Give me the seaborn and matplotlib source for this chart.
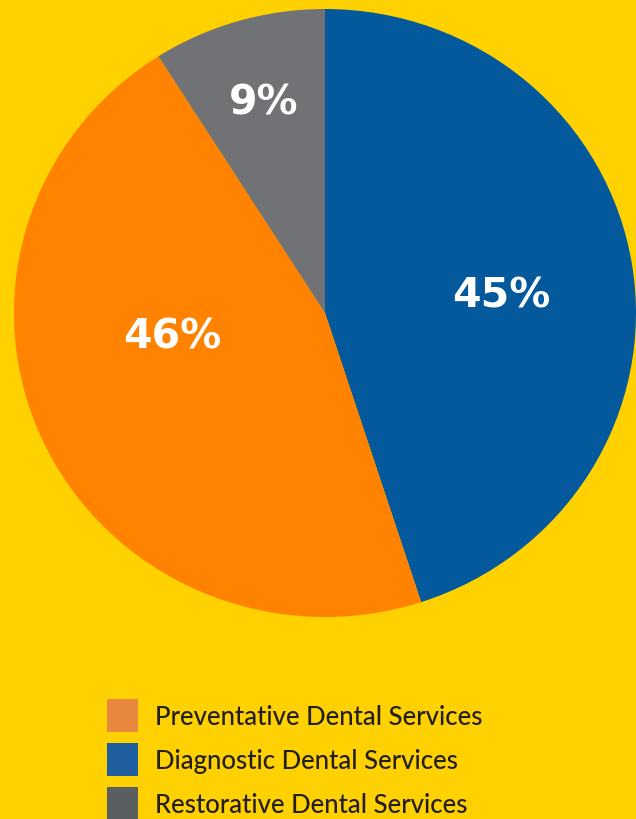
import seaborn as sns
import matplotlib.pyplot as plt
from matplotlib.patches import Patch

# data (pie drawn clockwise from 12 o'clock)
services = ["Diagnostic Dental Services", "Preventative Dental Services", "Restorative Dental Services"]
shares = [45, 46, 9]
pie_labels = ["45%", "46%", "9%"]

# legend order as in the picture
legend_order = ["Preventative Dental Services", "Diagnostic Dental Services", "Restorative Dental Services"]

bg = "#FFD100"
pie_colors = sns.color_palette(["#03599C", "#FF8200", "#717275"])
legend_colors = {"Preventative Dental Services": "#E8873E",
                 "Diagnostic Dental Services": "#1F5E9E",
                 "Restorative Dental Services": "#5B5E61"}

sns.set_style("white")
plt.rcParams['font.family'] = ['Lato', 'DejaVu Sans']

fig = plt.figure(figsize=(6.36, 8.20), dpi=100, facecolor=bg)
ax = fig.add_axes([14 / 636, 1 - 618 / 820, 622 / 636, 608 / 820])
ax.set_facecolor(bg)

wedges, _ = ax.pie(shares, colors=pie_colors, startangle=90, counterclock=False,
                   wedgeprops=dict(linewidth=0))
ax.set_aspect('auto')
ax.set_xlim(-1, 1)
ax.set_ylim(-1, 1)
ax.axis('off')

# percentage labels
label_pos = [(0.566, 0.059), (-0.492, -0.076), (-0.196, 0.694)]
for txt, (lx, ly) in zip(pie_labels, label_pos):
    ax.text(lx, ly, txt, ha='center', va='center', color='white',
            fontsize=29.5, fontweight='bold', family='DejaVu Sans')

# legend
handles = [Patch(facecolor=legend_colors[s], edgecolor='none', label=s) for s in legend_order]
fs = 18.5
fs_px = fs * 100 / 72
hh = (33 / fs_px - 0.245) / 0.65   # matplotlib shrinks handle height by a descent term
leg = fig.legend(handles=handles, loc='upper left',
                 bbox_to_anchor=(106.7 / 636, 1 - 700 / 820),
                 frameon=False, prop=dict(size=fs, weight='medium'),
                 borderpad=0, borderaxespad=0,
                 handlelength=31 / fs_px, handleheight=hh,
                 labelspacing=(44 - 33) / fs_px, handletextpad=17 / fs_px)
for t in leg.get_texts():
    t.set_color('#231F20')

fig.savefig('out.png', dpi=100, facecolor=bg)
